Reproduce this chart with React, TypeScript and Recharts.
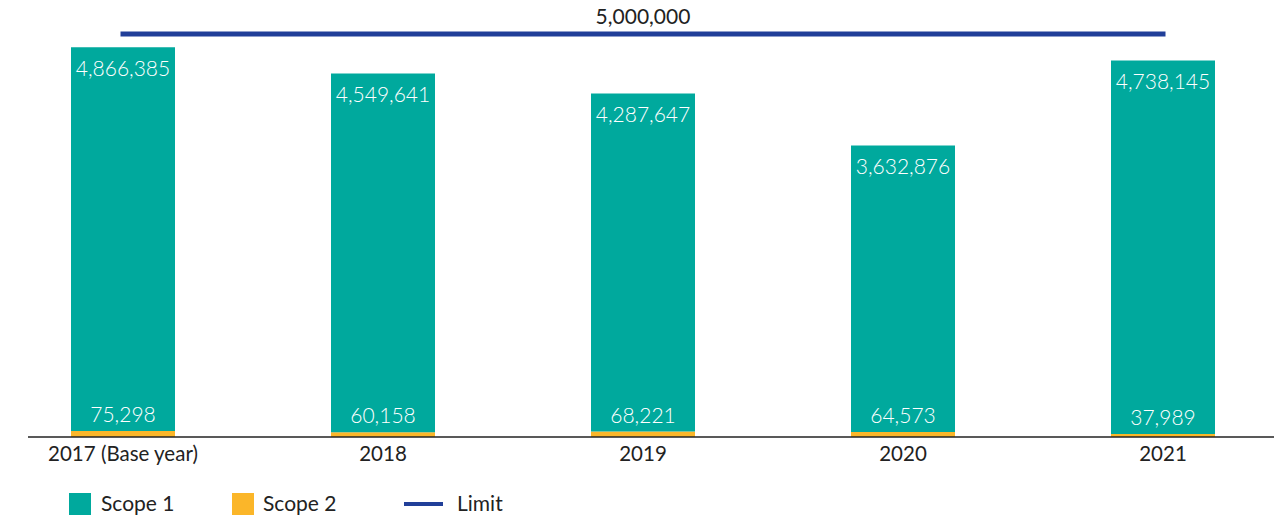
import React from 'react';
import { ComposedChart, Bar, Line, XAxis, YAxis, LabelList, Legend } from 'recharts';

const years = ['2017 (Base year)', '2018', '2019', '2020', '2021'];
const scope1 = [4866385, 4549641, 4287647, 3632876, 4738145];
const scope2 = [75298, 60158, 68221, 64573, 37989];
const limit = [5000000, 5000000, 5000000, 5000000, 5000000];

const data = years.map((year, i) => ({
  year,
  scope1: scope1[i],
  scope2: scope2[i],
  limit: limit[i],
}));

const TEAL = '#00a99d';
const ORANGE = '#fbb629';
const BLUE = '#213f99';
const FONT = 'Lato, "Open Sans", sans-serif';

const fmt = (v: any) => Number(v).toLocaleString('en-US');

const LimitLabel = (props: any) => {
  const { x, y, value, index } = props;
  if (index !== 2) return null;
  return (
    <text x={x} y={y - 10} textAnchor="middle" fill="#222" fontSize={21} fontFamily={FONT}>
      {fmt(value)}
    </text>
  );
};

// legend wrapper starts at the chart's left margin (28px)
const LegendContent = () => (
  <div style={{ position: 'relative', height: 30, fontFamily: FONT, fontSize: 21, color: '#222' }}>
    <div style={{ position: 'absolute', left: 41, top: 6, width: 22, height: 22, background: TEAL }} />
    <span style={{ position: 'absolute', left: 73, top: 3 }}>Scope 1</span>
    <div style={{ position: 'absolute', left: 204, top: 6, width: 22, height: 22, background: ORANGE }} />
    <span style={{ position: 'absolute', left: 235, top: 3 }}>Scope 2</span>
    <div style={{ position: 'absolute', left: 376, top: 15, width: 39, height: 4, background: BLUE }} />
    <span style={{ position: 'absolute', left: 429, top: 3 }}>Limit</span>
  </div>
);

export default function App() {
  return (
    <div style={{ position: 'absolute', left: 0, top: 0, background: '#fff' }}>
      <ComposedChart
        width={1274}
        height={517}
        data={data}
        margin={{ top: 27, right: 0, bottom: 0, left: 28 }}
        barCategoryGap={0}
      >
        <XAxis
          dataKey="year"
          tickLine={false}
          axisLine={{ stroke: '#222', strokeWidth: 1.5 }}
          padding={{ left: -35, right: -19 }}
          tick={{ fill: '#222', fontSize: 20.5, fontFamily: FONT }}
          tickMargin={3}
          height={50}
          interval={0}
        />
        <YAxis yAxisId="left" hide domain={[0, 5200000]} />
        <YAxis yAxisId="right" hide domain={[0, 5086849]} orientation="right" />
        <Legend verticalAlign="bottom" content={<LegendContent />} />
        <Bar yAxisId="left" dataKey="scope2" stackId="a" fill={ORANGE} barSize={104} isAnimationActive={false}>
          <LabelList
            dataKey="scope2"
            position="top"
            offset={9}
            formatter={fmt}
            fill="#fff"
            fontSize={21}
            fontWeight={300}
            fontFamily={FONT}
          />
        </Bar>
        <Bar yAxisId="left" dataKey="scope1" stackId="a" fill={TEAL} barSize={104} isAnimationActive={false}>
          <LabelList
            dataKey="scope1"
            position="insideTop"
            offset={14}
            formatter={fmt}
            fill="#fff"
            fontSize={21}
            fontWeight={300}
            fontFamily={FONT}
          />
        </Bar>
        <Line
          yAxisId="right"
          dataKey="limit"
          stroke={BLUE}
          strokeWidth={5}
          strokeLinecap="square"
          dot={false}
          activeDot={false}
          isAnimationActive={false}
        >
          <LabelList dataKey="limit" content={<LimitLabel />} />
        </Line>
      </ComposedChart>
    </div>
  );
}
